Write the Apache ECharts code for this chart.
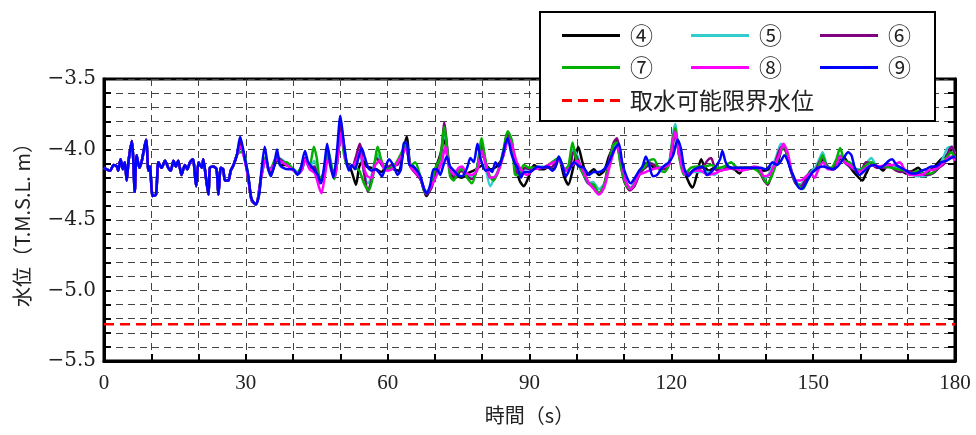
<!DOCTYPE html>
<html>
<head>
<meta charset="utf-8">
<script src="https://cdn.jsdelivr.net/npm/echarts@6/dist/echarts.min.js"></script>
<style>
  html, body { margin: 0; padding: 0; background: #fff; }
  #chart { width: 976px; height: 435px; }
</style>
</head>
<body>
<div id="chart"></div>
<script>
// Water level records at the intake, [time (s), level (T.M.S.L. m)]
// All gauges read the same trace during the first 28 s.
const commonStart = [[0,-4.13],[1.3,-4.15],[2.0,-4.11],[2.7,-4.12],[3.0,-4.15],[3.5,-4.07],[4.0,-4.14],[4.4,-4.09],[4.8,-4.22],[5.2,-4.08],[5.9,-3.94],[6.2,-4.08],[6.5,-4.30],[6.9,-4.04],[7.5,-4.13],[8.0,-4.08],[8.9,-3.93],[9.4,-4.15],[9.7,-4.12],[10.3,-4.33],[11.0,-4.32],[11.5,-4.09],[12.2,-4.13],[12.9,-4.08],[13.6,-4.13],[14.1,-4.15],[14.7,-4.08],[15.2,-4.12],[15.7,-4.08],[16.4,-4.18],[17.1,-4.11],[17.6,-4.14],[18.2,-4.09],[18.8,-4.07],[19.5,-4.26],[20.0,-4.09],[20.7,-4.13],[21.0,-4.07],[21.6,-4.21],[22.1,-4.32],[22.4,-4.13],[23.1,-4.12],[23.8,-4.14],[24.2,-4.32],[24.7,-4.13],[25.2,-4.14],[25.6,-4.22],[26.3,-4.22],[26.8,-4.15],[27.4,-4.11],[28.1,-4.04]];

const gauge4 = [[28.8,-3.99],[29.5,-4.02],[30.5,-4.19],[31.2,-4.35],[32.1,-4.39],[32.8,-4.32],[33.3,-4.18],[34.2,-4.06],[34.9,-4.15],[35.4,-4.17],[36.1,-4.11],[36.6,-4.07],[37.4,-4.11],[38.3,-4.11],[39.3,-4.12],[40.4,-4.15],[41.1,-4.17],[41.9,-4.14],[42.6,-4.06],[43.3,-4.12],[44.3,-4.13],[45.2,-4.19],[45.9,-4.22],[46.6,-4.15],[47.3,-4.04],[48.0,-4.12],[48.7,-4.17],[49.4,-4.04],[50.1,-3.85],[50.7,-3.96],[51.3,-4.09],[52.0,-4.12],[52.7,-4.19],[53.3,-4.25],[54.0,-4.12],[54.8,-4.08],[55.5,-4.12],[56.6,-4.13],[57.6,-4.14],[58.7,-4.16],[59.8,-4.12],[61.3,-4.14],[62.3,-4.15],[64.0,-3.91],[64.8,-4.11],[65.8,-4.14],[66.9,-4.20],[68.2,-4.33],[69.0,-4.28],[70.1,-4.14],[71.1,-4.04],[72.0,-3.93],[72.7,-4.06],[73.6,-4.18],[74.7,-4.19],[75.7,-4.20],[76.8,-4.17],[78.2,-4.15],[79.6,-4.12],[80.7,-4.11],[81.7,-4.14],[83.1,-4.12],[84.5,-4.04],[85.2,-3.89],[86.1,-3.96],[87.0,-4.11],[87.9,-4.22],[88.8,-4.26],[89.5,-4.22],[90.3,-4.15],[91.0,-4.11],[92.0,-4.14],[93.1,-4.14],[94.1,-4.12],[95.2,-4.14],[96.2,-4.06],[97.3,-4.19],[98.2,-4.25],[99.1,-4.15],[99.8,-4.04],[100.3,-3.98],[101.2,-4.09],[102.2,-4.18],[103.6,-4.14],[104.7,-4.18],[105.8,-4.15],[106.8,-4.05],[107.9,-3.97],[108.4,-3.94],[109.1,-4.06],[110.0,-4.22],[111.1,-4.28],[112.1,-4.26],[113.2,-4.18],[114.2,-4.11],[115.3,-4.09],[116.3,-4.13],[117.7,-4.13],[118.8,-4.12],[119.9,-4.06],[120.8,-3.87],[121.7,-4.04],[122.7,-4.15],[123.8,-4.24],[124.5,-4.27],[125.4,-4.18],[126.3,-4.07],[127.0,-4.12],[128.0,-4.15],[129.1,-4.13],[130.5,-4.14],[131.9,-4.12],[133.3,-4.14],[134.4,-4.17],[135.4,-4.13],[136.8,-4.13],[138.2,-4.14],[139.6,-4.15],[141.1,-4.13],[142.5,-4.09],[143.5,-3.99],[144.2,-4.01],[145.3,-4.15],[146.3,-4.24],[147.4,-4.25],[148.5,-4.20],[149.5,-4.15],[150.3,-4.14],[151.0,-4.12],[152.1,-4.07],[153.1,-4.13],[154.2,-4.14],[155.6,-4.07],[156.6,-4.06],[157.7,-4.12],[159.1,-4.18],[160.4,-4.22],[161.2,-4.17],[162.3,-4.11],[163.7,-4.12],[164.8,-4.15],[165.8,-4.11],[166.9,-4.12],[168.3,-4.14],[169.7,-4.17],[171.1,-4.15],[172.2,-4.13],[173.6,-4.18],[174.6,-4.15],[175.7,-4.12],[176.7,-4.08],[178.2,-4.04],[179.2,-4.02],[180,-4.06]];

const gauge5 = [[28.8,-3.97],[29.5,-4.03],[30.5,-4.20],[31.2,-4.36],[32.1,-4.39],[33.3,-4.19],[34.2,-4.06],[34.9,-4.15],[35.6,-4.12],[36.6,-4.06],[37.6,-4.07],[38.6,-4.10],[39.7,-4.13],[41.1,-4.16],[42.6,-4.07],[43.5,-4.12],[44.5,-4.08],[45.6,-4.22],[46.7,-4.16],[47.3,-4.02],[48.1,-4.13],[48.8,-4.20],[49.5,-4.04],[50.2,-3.86],[50.9,-4.00],[51.7,-4.12],[52.5,-4.12],[53.4,-4.10],[54.1,-4.03],[54.9,-4.15],[55.8,-4.24],[56.8,-4.16],[57.7,-4.03],[58.6,-4.10],[59.5,-4.14],[60.8,-4.11],[62.0,-4.10],[63.2,-4.00],[63.9,-3.95],[64.8,-4.12],[66.9,-4.20],[68.1,-4.30],[69.2,-4.26],[70.3,-4.15],[71.3,-4.05],[72.0,-3.86],[72.6,-4.00],[73.5,-4.17],[74.6,-4.15],[75.7,-4.13],[76.8,-4.18],[77.9,-4.20],[78.9,-4.13],[79.9,-3.95],[80.7,-4.12],[81.7,-4.26],[82.6,-4.20],[83.6,-4.13],[84.7,-3.99],[85.4,-3.88],[86.3,-3.95],[87.1,-4.13],[88.0,-4.17],[89.0,-4.14],[90.3,-4.14],[92.7,-4.12],[94.5,-4.13],[96.2,-4.06],[97.5,-4.14],[98.5,-4.10],[99.3,-4.00],[100.2,-4.05],[101.2,-4.16],[102.4,-4.24],[103.4,-4.23],[104.7,-4.28],[105.8,-4.24],[106.8,-4.10],[107.8,-3.98],[108.5,-3.96],[109.4,-4.10],[110.3,-4.22],[111.3,-4.27],[112.3,-4.23],[113.3,-4.16],[114.5,-4.12],[115.8,-4.10],[117.2,-4.12],[118.5,-4.13],[119.6,-4.08],[120.3,-3.90],[120.8,-3.82],[121.6,-4.02],[122.7,-4.16],[123.8,-4.16],[125.0,-4.16],[126.6,-4.16],[128.0,-4.16],[129.1,-4.18],[130.5,-4.14],[131.9,-4.13],[133.3,-4.14],[134.7,-4.13],[136.1,-4.14],[137.5,-4.13],[138.9,-4.16],[139.9,-4.20],[141.0,-4.15],[142.2,-4.05],[143.2,-3.96],[144.1,-3.99],[145.2,-4.14],[146.2,-4.23],[147.3,-4.25],[148.4,-4.20],[149.5,-4.16],[150.6,-4.12],[151.4,-4.06],[152.0,-4.02],[152.8,-4.10],[153.8,-4.14],[154.9,-4.09],[155.7,-4.04],[156.6,-4.09],[157.7,-4.12],[158.8,-4.14],[160.0,-4.14],[161.2,-4.10],[162.3,-4.06],[163.4,-4.12],[164.8,-4.13],[166.2,-4.12],[167.6,-4.13],[169.0,-4.15],[170.4,-4.17],[171.8,-4.19],[173.2,-4.19],[174.6,-4.18],[175.6,-4.16],[176.6,-4.12],[177.6,-4.05],[178.4,-3.99],[179.2,-3.98],[180,-4.03]];

const gauge6 = [[28.8,-3.95],[29.5,-4.02],[30.5,-4.20],[31.2,-4.36],[32.1,-4.39],[33.3,-4.18],[34.2,-4.06],[34.9,-4.15],[35.6,-4.12],[36.6,-4.05],[37.6,-4.08],[38.6,-4.10],[39.7,-4.13],[40.9,-4.17],[42.6,-4.06],[43.5,-4.13],[44.5,-4.12],[45.6,-4.24],[46.6,-4.18],[47.3,-4.00],[48.1,-4.13],[48.8,-4.20],[49.5,-4.02],[50.1,-3.82],[50.9,-4.02],[51.6,-4.12],[52.5,-4.12],[53.3,-4.05],[54.1,-3.96],[55.0,-4.16],[55.8,-4.30],[56.7,-4.20],[57.6,-4.06],[58.6,-4.10],[59.5,-4.14],[60.8,-4.11],[62.0,-4.11],[63.2,-4.02],[63.9,-3.97],[64.8,-4.12],[66.9,-4.21],[68.2,-4.32],[69.3,-4.27],[70.3,-4.14],[71.3,-4.03],[72.0,-3.81],[72.6,-3.99],[73.4,-4.19],[74.4,-4.20],[75.5,-4.15],[76.8,-4.19],[77.9,-4.21],[78.9,-4.14],[79.9,-3.96],[80.8,-4.10],[81.7,-4.20],[82.7,-4.20],[83.7,-4.12],[84.7,-3.98],[85.4,-3.88],[86.3,-3.96],[87.1,-4.15],[88.0,-4.18],[89.0,-4.13],[90.3,-4.14],[92.7,-4.13],[94.5,-4.13],[96.2,-4.06],[97.5,-4.15],[98.5,-4.13],[99.3,-4.02],[100.2,-4.07],[101.2,-4.16],[102.4,-4.24],[103.4,-4.26],[104.7,-4.31],[105.8,-4.25],[106.8,-4.08],[107.8,-3.95],[108.5,-3.92],[109.4,-4.08],[110.3,-4.24],[111.2,-4.29],[112.2,-4.26],[113.3,-4.17],[114.5,-4.13],[115.8,-4.10],[117.2,-4.13],[118.5,-4.14],[119.6,-4.10],[120.3,-3.93],[120.8,-3.86],[121.6,-4.03],[122.7,-4.16],[123.8,-4.17],[125.0,-4.14],[126.6,-4.13],[127.6,-4.08],[128.4,-4.06],[129.3,-4.14],[130.5,-4.15],[131.9,-4.13],[133.3,-4.14],[134.7,-4.13],[136.1,-4.14],[137.5,-4.13],[138.6,-4.16],[139.6,-4.22],[140.4,-4.25],[141.3,-4.17],[142.3,-4.06],[143.3,-3.98],[144.2,-4.01],[145.3,-4.15],[146.3,-4.24],[147.4,-4.26],[148.5,-4.21],[149.5,-4.17],[150.6,-4.14],[151.4,-4.08],[152.0,-4.06],[152.8,-4.11],[153.8,-4.14],[154.9,-4.09],[155.7,-4.05],[156.6,-4.09],[157.7,-4.12],[158.8,-4.14],[160.0,-4.15],[161.2,-4.09],[162.3,-4.10],[163.4,-4.13],[164.8,-4.13],[166.2,-4.12],[167.6,-4.15],[168.6,-4.16],[169.7,-4.15],[171.1,-4.16],[172.5,-4.17],[173.9,-4.18],[175.3,-4.17],[176.6,-4.13],[177.7,-4.10],[178.8,-4.00],[179.4,-3.98],[180,-4.05]];

const gauge7 = [[28.8,-4.02],[29.5,-4.02],[30.5,-4.19],[31.2,-4.36],[32.1,-4.39],[33.3,-4.18],[34.2,-4.05],[34.9,-4.16],[35.6,-4.12],[36.6,-4.04],[37.4,-4.09],[38.6,-4.09],[39.7,-4.13],[40.7,-4.17],[41.8,-4.12],[42.6,-4.08],[43.5,-4.11],[44.4,-3.98],[45.0,-4.06],[45.7,-4.21],[46.6,-4.15],[47.3,-3.99],[48.0,-4.09],[48.7,-4.21],[49.4,-4.06],[50.1,-3.89],[50.8,-4.04],[51.5,-4.12],[52.2,-4.12],[53.1,-4.13],[54.0,-4.15],[55.0,-4.24],[56.0,-4.29],[56.9,-4.19],[57.9,-3.98],[58.7,-4.08],[59.8,-4.14],[61.3,-4.12],[63.0,-4.02],[63.9,-3.96],[64.8,-4.12],[65.8,-4.09],[66.9,-4.19],[68.0,-4.31],[68.9,-4.28],[70.1,-4.13],[71.1,-4.06],[72.0,-3.84],[72.5,-3.97],[73.2,-4.19],[74.0,-4.22],[74.8,-4.16],[75.7,-4.14],[76.8,-4.20],[77.8,-4.24],[78.9,-4.13],[79.9,-3.92],[80.6,-4.06],[81.6,-4.19],[82.4,-4.22],[83.5,-4.14],[84.5,-4.00],[85.4,-3.87],[86.3,-3.94],[87.0,-4.18],[87.7,-4.18],[88.8,-4.11],[90.0,-4.13],[92.7,-4.13],[96.2,-4.06],[97.3,-4.14],[98.2,-4.12],[99.1,-3.95],[99.8,-4.06],[100.5,-4.12],[101.5,-4.18],[102.6,-4.24],[103.6,-4.25],[104.7,-4.31],[105.8,-4.25],[106.8,-4.11],[107.7,-3.97],[108.4,-3.95],[109.3,-4.12],[110.3,-4.24],[111.2,-4.28],[112.1,-4.25],[113.2,-4.15],[114.2,-4.13],[115.3,-4.08],[116.3,-4.07],[117.4,-4.14],[118.5,-4.16],[119.5,-4.11],[120.2,-3.95],[120.8,-3.85],[121.7,-4.06],[122.7,-4.18],[124.1,-4.13],[125.5,-4.12],[127.0,-4.12],[128.4,-4.11],[129.8,-4.13],[131.2,-4.12],[132.6,-4.09],[134.0,-4.13],[135.4,-4.13],[136.8,-4.13],[138.2,-4.15],[139.3,-4.19],[140.2,-4.24],[141.1,-4.20],[142.1,-4.11],[143.2,-4.01],[143.9,-3.98],[144.9,-4.09],[146.0,-4.21],[147.0,-4.26],[147.8,-4.28],[148.8,-4.22],[149.9,-4.16],[151.0,-4.13],[152.0,-4.04],[152.8,-4.12],[153.8,-4.13],[154.9,-4.07],[155.7,-3.99],[156.6,-4.08],[157.7,-4.09],[158.8,-4.13],[159.8,-4.15],[160.9,-4.12],[162.3,-4.09],[163.7,-4.12],[165.1,-4.12],[166.5,-4.13],[167.9,-4.14],[169.3,-4.15],[170.7,-4.17],[172.2,-4.15],[173.6,-4.17],[175.0,-4.17],[176.0,-4.14],[177.1,-4.11],[178.2,-4.06],[179.2,-4.02],[180,-4.06]];

const gauge8 = [[28.8,-3.98],[29.5,-4.04],[30.5,-4.20],[31.2,-4.36],[32.1,-4.39],[33.3,-4.19],[34.2,-4.07],[34.9,-4.15],[35.6,-4.13],[36.6,-4.07],[37.6,-4.09],[38.6,-4.11],[39.7,-4.14],[41.1,-4.17],[41.9,-4.14],[42.6,-4.07],[43.5,-4.14],[44.6,-4.17],[45.5,-4.27],[46.0,-4.31],[46.7,-4.19],[47.4,-4.06],[48.1,-4.15],[48.8,-4.19],[49.5,-4.04],[50.2,-3.88],[50.9,-4.03],[51.7,-4.13],[52.5,-4.12],[53.4,-4.08],[54.1,-4.01],[54.8,-4.11],[55.7,-4.19],[56.6,-4.20],[57.4,-4.11],[58.4,-4.08],[59.3,-4.14],[60.1,-4.15],[61.3,-4.13],[63.0,-4.04],[63.9,-3.99],[64.8,-4.12],[66.9,-4.20],[68.2,-4.31],[69.4,-4.25],[70.4,-4.18],[71.5,-4.08],[72.2,-3.98],[72.9,-4.11],[74.0,-4.18],[75.0,-4.13],[75.7,-4.12],[76.8,-4.17],[77.8,-4.18],[78.9,-4.15],[79.9,-4.01],[81.0,-4.14],[81.7,-4.20],[82.8,-4.19],[83.8,-4.12],[84.9,-3.99],[85.6,-3.92],[86.5,-3.99],[87.3,-4.09],[88.4,-4.15],[89.5,-4.18],[90.9,-4.14],[92.7,-4.13],[96.2,-4.08],[97.7,-4.15],[99.1,-4.11],[100.1,-4.08],[101.2,-4.14],[102.6,-4.24],[103.6,-4.28],[104.7,-4.32],[105.8,-4.27],[106.8,-4.14],[107.9,-4.01],[108.6,-3.98],[109.5,-4.09],[110.3,-4.22],[111.4,-4.28],[112.3,-4.24],[113.2,-4.18],[114.6,-4.16],[116.0,-4.14],[117.4,-4.13],[118.8,-4.12],[119.6,-4.10],[120.3,-3.95],[120.8,-3.87],[121.7,-4.04],[122.7,-4.17],[123.8,-4.18],[124.8,-4.15],[126.2,-4.15],[127.7,-4.18],[129.1,-4.17],[130.5,-4.15],[131.9,-4.14],[133.3,-4.13],[134.7,-4.15],[136.1,-4.14],[137.5,-4.12],[138.6,-4.13],[139.6,-4.19],[140.7,-4.18],[141.8,-4.11],[142.8,-4.04],[143.7,-3.96],[144.6,-4.02],[145.4,-4.15],[146.3,-4.22],[147.4,-4.22],[148.5,-4.19],[149.5,-4.17],[150.3,-4.20],[151.0,-4.15],[152.1,-4.09],[153.1,-4.14],[154.5,-4.14],[155.7,-4.05],[156.6,-4.09],[157.7,-4.11],[158.8,-4.14],[159.8,-4.16],[161.2,-4.13],[162.6,-4.11],[164.0,-4.12],[165.5,-4.11],[166.9,-4.11],[168.3,-4.09],[169.3,-4.14],[170.4,-4.18],[171.5,-4.18],[172.9,-4.18],[174.3,-4.15],[175.7,-4.14],[177.1,-4.11],[178.2,-4.07],[179.2,-4.05],[180,-4.08]];

const gauge9 = [[28.8,-3.91],[29.5,-4.01],[30.0,-4.10],[30.5,-4.18],[31.2,-4.35],[32.1,-4.39],[32.8,-4.32],[33.3,-4.15],[34.0,-3.98],[34.7,-4.13],[35.3,-4.19],[36.0,-4.11],[36.6,-4.00],[37.2,-4.11],[37.9,-4.13],[39.0,-4.14],[40.0,-4.14],[40.9,-4.18],[41.6,-4.14],[42.5,-4.01],[43.2,-4.09],[44.3,-4.14],[45.2,-4.18],[45.9,-4.24],[46.6,-4.11],[47.2,-3.96],[47.8,-4.09],[48.5,-4.20],[49.2,-4.04],[50.0,-3.76],[50.6,-3.92],[51.2,-4.07],[51.8,-4.15],[52.4,-4.11],[53.1,-4.14],[53.8,-4.06],[54.5,-3.99],[55.2,-4.06],[55.9,-4.13],[56.6,-4.15],[57.4,-4.14],[58.1,-4.16],[58.8,-4.19],[59.5,-4.13],[60.3,-4.07],[61.3,-4.12],[62.1,-4.18],[62.8,-4.14],[63.5,-3.95],[64.1,-3.96],[64.6,-4.11],[65.5,-4.12],[66.2,-4.15],[66.9,-4.19],[67.7,-4.28],[68.3,-4.31],[69.0,-4.25],[69.7,-4.14],[70.4,-4.14],[71.1,-4.18],[71.8,-4.11],[72.5,-4.05],[73.2,-4.12],[74.0,-4.15],[74.8,-4.18],[75.7,-4.19],[76.8,-4.13],[77.5,-4.06],[78.2,-4.09],[79.0,-3.96],[79.7,-4.07],[80.7,-4.15],[81.4,-4.14],[82.1,-4.16],[82.8,-4.09],[83.5,-4.12],[84.2,-4.06],[84.9,-3.96],[85.4,-3.92],[86.1,-4.02],[86.8,-4.09],[87.5,-4.13],[88.2,-4.20],[88.9,-4.16],[89.8,-4.16],[90.6,-4.15],[91.7,-4.12],[92.7,-4.13],[93.8,-4.12],[94.8,-4.15],[95.5,-4.12],[96.2,-4.05],[97.0,-4.12],[97.7,-4.19],[98.5,-4.14],[99.4,-4.09],[100.5,-4.12],[101.5,-4.13],[102.6,-4.18],[103.6,-4.16],[104.7,-4.16],[105.8,-4.14],[106.8,-4.09],[108.1,-3.99],[108.9,-3.96],[109.6,-4.09],[110.5,-4.19],[111.4,-4.24],[112.3,-4.20],[113.2,-4.15],[113.9,-4.12],[114.6,-4.05],[115.3,-4.11],[116.1,-4.19],[117.0,-4.18],[118.0,-4.13],[118.7,-4.11],[119.5,-4.09],[120.4,-4.04],[121.3,-3.93],[122.0,-3.99],[122.7,-4.13],[123.6,-4.19],[124.5,-4.15],[125.5,-4.13],[126.6,-4.12],[127.5,-4.18],[128.4,-4.16],[129.4,-4.12],[130.3,-4.07],[130.8,-4.01],[131.5,-4.09],[132.5,-4.13],[133.6,-4.13],[134.7,-4.13],[135.8,-4.13],[136.8,-4.13],[137.9,-4.13],[138.9,-4.13],[140.0,-4.14],[140.7,-4.12],[141.4,-4.09],[142.3,-4.11],[143.2,-4.08],[143.9,-4.04],[144.6,-4.08],[145.3,-4.15],[146.0,-4.20],[146.7,-4.26],[147.4,-4.28],[148.1,-4.26],[148.9,-4.21],[149.9,-4.16],[151.0,-4.13],[152.1,-4.12],[153.1,-4.13],[154.2,-4.14],[155.2,-4.12],[156.3,-4.07],[157.4,-4.02],[158.1,-4.04],[158.8,-4.13],[159.8,-4.18],[160.9,-4.15],[161.9,-4.12],[163.0,-4.11],[164.1,-4.13],[165.1,-4.11],[166.0,-4.08],[166.7,-4.07],[167.6,-4.11],[168.6,-4.13],[169.7,-4.15],[170.7,-4.17],[171.8,-4.17],[172.9,-4.15],[173.9,-4.14],[175.0,-4.12],[176.0,-4.12],[177.1,-4.09],[178.2,-4.08],[179.2,-4.06],[180,-4.05]];

// Lowest level at which water can still be taken in
const intakeLimit = -5.24;
const timeRange = [0, 180];

const gaugeNames = ['④', '⑤', '⑥', '⑦', '⑧', '⑨'];
const gaugeTails = [gauge4, gauge5, gauge6, gauge7, gauge8, gauge9];
const gaugeColors = ['#000000', '#33CCCC', '#800080', '#00B000', '#FF00FF', '#0000FF'];
const limitName = '取水可能限界水位';

const serifFont = '"Liberation Serif", "DejaVu Serif", serif';
const wideSerifFont = '"DejaVu Serif", "Liberation Serif", serif';
const cjkFont = '"Noto Sans CJK JP", "Noto Sans", sans-serif';

// Legend keys: a solid bar and a dashed bar
const solidKey = 'path://M0,0H58V3H0Z';
const dashedKey = 'path://M0,0H10V3H0Z M16,0H26V3H16Z M32,0H42V3H32Z M48,0H58V3H48Z';

const gaugeSeries = gaugeNames.map((name, i) => ({
  name: name,
  type: 'line',
  data: commonStart.concat(gaugeTails[i]),
  symbol: 'none',
  smooth: 0.25,
  lineStyle: { color: gaugeColors[i], width: 2.5 },
  itemStyle: { color: gaugeColors[i] },
  z: 2 + i * 0.01
}));

const limitSeries = {
  name: limitName,
  type: 'line',
  data: timeRange.map(t => [t, intakeLimit]),
  symbol: 'none',
  lineStyle: { color: '#FF0000', width: 2.5, type: [10, 6] },
  itemStyle: { color: '#FF0000' },
  z: 2
};

const legendCommon = {
  left: 562,
  orient: 'horizontal',
  itemWidth: 58,
  itemHeight: 3,
  itemGap: 38,
  padding: 0,
  selectedMode: false,
  z: 8,
  textStyle: { fontFamily: cjkFont, fontSize: 23, color: '#222', padding: [0, 0, 0, 5] }
};

const chart = echarts.init(document.getElementById('chart'), null, { renderer: 'canvas' });

chart.setOption({
  animation: false,
  backgroundColor: '#ffffff',
  grid: {
    left: 104, right: 21, top: 79, bottom: 74,
    show: true, borderColor: '#000', borderWidth: 3, backgroundColor: 'transparent'
  },
  legend: [
    Object.assign({}, legendCommon, { top: 24, data: gaugeNames.slice(0, 3).map(n => ({ name: n, icon: solidKey })) }),
    Object.assign({}, legendCommon, { top: 56, data: gaugeNames.slice(3, 6).map(n => ({ name: n, icon: solidKey })) }),
    Object.assign({}, legendCommon, { top: 89, data: [{ name: limitName, icon: dashedKey }] })
  ],
  graphic: [{
    type: 'rect',
    z: 7,
    shape: { x: 540, y: 12, width: 395, height: 109 },
    style: { fill: '#ffffff', stroke: '#000000', lineWidth: 2 }
  }],
  xAxis: [{
    type: 'value',
    min: timeRange[0], max: timeRange[1], interval: 10,
    name: '時間（s）',
    nameLocation: 'middle',
    nameGap: 44,
    nameTextStyle: { fontFamily: cjkFont, fontSize: 20, color: '#222' },
    axisLine: { show: true, lineStyle: { color: '#000', width: 3 } },
    axisTick: { show: true, inside: true, length: 7, lineStyle: { color: '#000', width: 2 } },
    axisLabel: {
      margin: 12,
      fontFamily: serifFont, fontSize: 21, color: '#222',
      formatter: v => (Math.round(v) % 30 === 0 ? String(Math.round(v)) : '')
    },
    splitLine: { show: true, lineStyle: { color: '#444', width: 1, type: [7, 5] } }
  }],
  yAxis: [{
    type: 'value',
    min: -5.5, max: -3.5, interval: 0.1,
    name: '水位（T.M.S.L. m）',
    nameLocation: 'middle',
    nameRotate: 90,
    nameGap: 72,
    nameTextStyle: { fontFamily: cjkFont, fontSize: 20, color: '#222' },
    axisLine: { show: true, lineStyle: { color: '#000', width: 3 } },
    axisTick: { show: true, inside: true, length: 7, lineStyle: { color: '#000', width: 2 } },
    axisLabel: {
      margin: 8,
      fontFamily: wideSerifFont, fontSize: 20, color: '#222',
      formatter: v => {
        const r = Math.round(v * 10);
        return r % 5 === 0 ? (r / 10).toFixed(1).replace('-', '\u2212') : '';
      }
    },
    splitLine: { show: true, lineStyle: { color: '#444', width: 1, type: [7, 5] } }
  }, {
    type: 'value',
    position: 'right',
    min: -5.5, max: -3.5, interval: 0.1,
    axisLine: { show: true, lineStyle: { color: '#000', width: 3 } },
    axisTick: { show: true, inside: true, length: 7, lineStyle: { color: '#000', width: 2 } },
    axisLabel: { show: false },
    splitLine: { show: false }
  }],
  series: gaugeSeries.concat([limitSeries])
});
</script>
</body>
</html>
